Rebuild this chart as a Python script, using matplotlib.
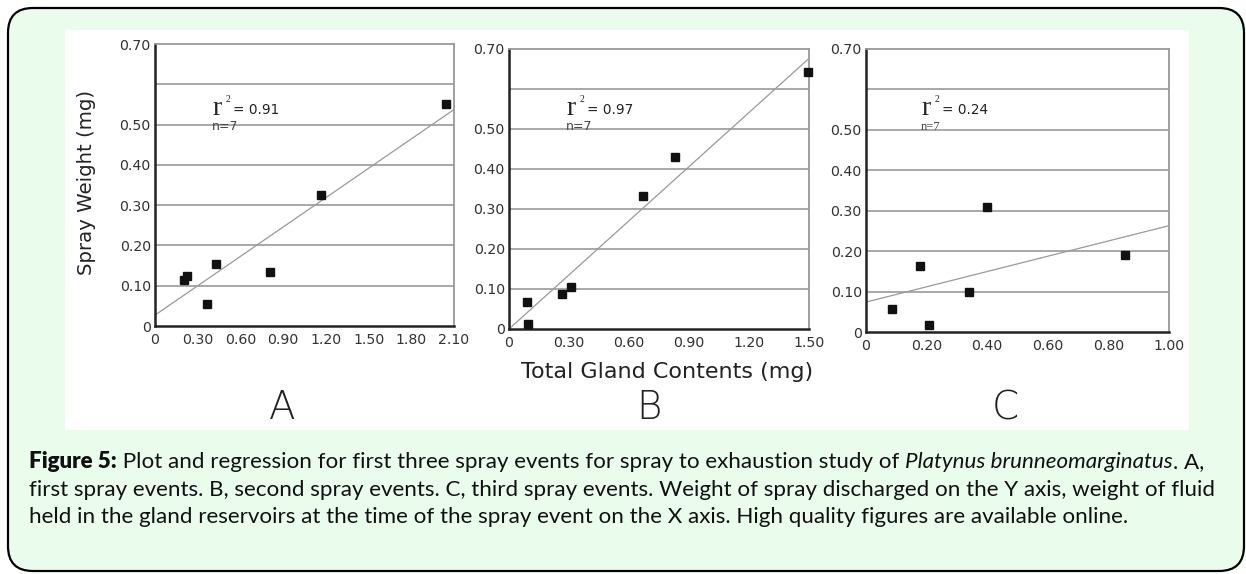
import matplotlib
matplotlib.use("Agg")
import matplotlib.pyplot as plt
from matplotlib.patches import FancyBboxPatch, Rectangle
import numpy as np

W, H = 1246, 574

# ---- data ----
a_x = [0.206, 0.222, 0.362, 0.426, 0.809, 1.169, 2.046]
a_y = [0.115, 0.123, 0.054, 0.155, 0.135, 0.326, 0.551]
a_fit = [0.027, 0.243]   # intercept, slope

b_x = [0.090, 0.097, 0.265, 0.312, 0.670, 0.832, 1.495]
b_y = [0.068, 0.0125, 0.087, 0.106, 0.333, 0.429, 0.643]
b_fit = [0.0, 0.451]

c_x = [0.087, 0.179, 0.207, 0.340, 0.400, 0.854]
c_y = [0.057, 0.163, 0.017, 0.098, 0.308, 0.190]
c_fit = [0.074, 0.189]

y_ticks = [0, 0.1, 0.2, 0.3, 0.4, 0.5, 0.7]
y_ticklabels = ["0", "0.10", "0.20", "0.30", "0.40", "0.50", "0.70"]
grid_y = [0.1, 0.2, 0.3, 0.4, 0.5, 0.6]

a_xticks = [0, 0.3, 0.6, 0.9, 1.2, 1.5, 1.8, 2.1]
a_xlabels = ["0", "0.30", "0.60", "0.90", "1.20", "1.50", "1.80", "2.10"]
b_xticks = [0, 0.3, 0.6, 0.9, 1.2, 1.5]
b_xlabels = ["0", "0.30", "0.60", "0.90", "1.20", "1.50"]
c_xticks = [0, 0.2, 0.4, 0.6, 0.8, 1.0]
c_xlabels = ["0", "0.20", "0.40", "0.60", "0.80", "1.00"]

r2_text = ["0.91", "0.97", "0.24"]
n_text = ["n=7", "n=7", "n=7"]
panel_letters = ["A", "B", "C"]

caption_bold = "Figure 5:"
caption_lines = [
    [(" Plot and regression for first three spray events for spray to exhaustion study of ", "normal"),
     ("Platynus brunneomarginatus", "italic"), (". A,", "normal")],
    [("first spray events. B, second spray events. C, third spray events. Weight of spray discharged on the Y axis, weight of fluid", "normal")],
    [("held in the gland reservoirs at the time of the spray event on the X axis. High quality figures are available online.", "normal")],
]

BG = "#EAFDED"

fig = plt.figure(figsize=(W / 100, H / 100), dpi=100)
fig.patch.set_facecolor("white")

def fx(px):
    return px / W

def fy(py):
    return 1 - py / H

# outer rounded box
box = FancyBboxPatch((fx(8), fy(571)), fx(1236), (571 - 8) / H,
                     boxstyle="round,pad=0,rounding_size=0.02",
                     transform=fig.transFigure, facecolor=BG, edgecolor="black",
                     linewidth=1.6, mutation_aspect=W / H, zorder=-3)
fig.patches.append(box)
# white image area
fig.patches.append(Rectangle((fx(65), fy(430)), fx(1189 - 65), (430 - 30) / H,
                             transform=fig.transFigure, facecolor="white",
                             edgecolor="none", zorder=-2))

def make_ax(l, r, t, b):
    return fig.add_axes([fx(l), fy(b), fx(r - l), (b - t) / H])

panels = [
    (make_ax(155, 454, 44, 326), a_x, a_y, a_fit, 2.1, a_xticks, a_xlabels, 212),
    (make_ax(509, 809, 49, 329), b_x, b_y, b_fit, 1.5, b_xticks, b_xlabels, 566),
    (make_ax(866, 1169, 49, 332), c_x, c_y, c_fit, 1.0, c_xticks, c_xlabels, 921),
]

tick_font = dict(family="DejaVu Sans", size=10.2, color="#333333")

for i, (ax, xs, ys, fit, xmax, xt, xl, rx) in enumerate(panels):
    ax.set_facecolor("white")
    ax.set_xlim(0, xmax)
    ax.set_ylim(0, 0.7)
    for gy in grid_y:
        ax.axhline(gy, color="#999999", lw=1.2, zorder=1)
    xx = np.array([0, xmax])
    ax.plot(xx, fit[0] + fit[1] * xx, color="#999999", lw=0.9, zorder=2)
    ax.plot(xs, ys, "s", color="#111111", ms=6.3, zorder=3, clip_on=False)
    ax.set_yticks(y_ticks)
    ax.set_yticklabels(y_ticklabels, **tick_font)
    ax.set_xticks(xt)
    ax.set_xticklabels(xl, **tick_font)
    ax.tick_params(length=0, pad=3)
    ax.tick_params(axis="x", pad=5)
    for s in ["left", "bottom"]:
        ax.spines[s].set_color("#222222")
        ax.spines[s].set_linewidth(1.8)
    for s in ["top", "right"]:
        ax.spines[s].set_color("#999999")
        ax.spines[s].set_linewidth(1.3)
    # r^2 annotation (figure pixel positions)
    fig.text(fx(rx), fy(115), "r", family="Liberation Serif", size=20,
             color="#222222", va="baseline")
    fig.text(fx(rx + 14), fy(102), "2", family="Liberation Serif", size=7,
             color="#222222", va="baseline")
    fig.text(fx(rx + 21), fy(114), "= " + r2_text[i], family="DejaVu Sans",
             size=9.8, color="#222222", va="baseline")
    nfam = "Liberation Serif" if i == 2 else "DejaVu Sans"
    fig.text(fx(rx), fy(130), n_text[i], family=nfam, size=9,
             color="#444444", va="baseline")

fig.text(fx(87), fy(182), "Spray Weight (mg)", rotation=90, ha="center", va="center",
         family="DejaVu Sans", size=14.2, color="#222222")
fig.text(fx(667), fy(378), "Total Gland Contents (mg)", ha="center", va="baseline",
         family="DejaVu Sans", size=16, color="#222222")

for lx, letter in zip([282, 649, 1005], panel_letters):
    fig.text(fx(lx), fy(408), letter, ha="center", va="center",
             family="DejaVu Sans", fontweight="light", size=28, color="#222222")

# caption
cap_font = "Lato"
cap_size = 16.1
y0 = 462
for li, parts in enumerate(caption_lines):
    ypos = fy(y0 + li * 27.5)
    if li == 0:
        prev = fig.text(fx(29), ypos, caption_bold, family=cap_font, fontweight="heavy",
                        size=cap_size, color="#111111", va="center")
    else:
        prev = None
    for txt, style in parts:
        if prev is None:
            prev = fig.text(fx(29), ypos, txt, family=cap_font, style=style,
                            size=cap_size, color="#111111", va="center")
        else:
            fig.canvas.draw()
            bb = prev.get_window_extent()
            prev = fig.text(bb.x1 / W, ypos, txt, family=cap_font, style=style,
                            size=cap_size, color="#111111", va="center")

fig.savefig("out.png", dpi=100, facecolor="white")
